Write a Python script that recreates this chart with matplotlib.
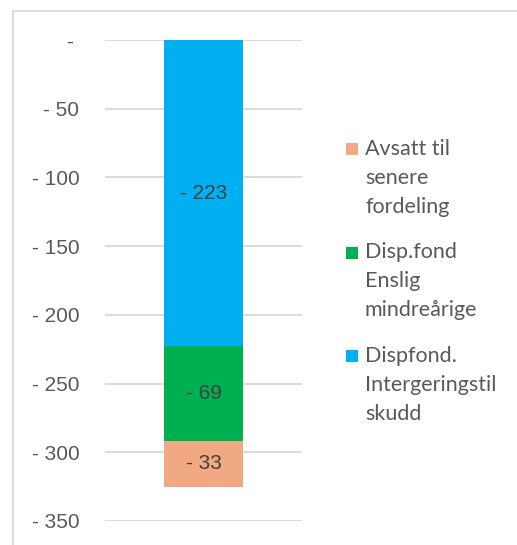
import matplotlib.pyplot as plt
from matplotlib.patches import Rectangle

# data (stacked from 0 downwards)
series = ["Dispfond.\nIntergeringstil\nskudd", "Disp.fond\nEnslig\nmindreårige", "Avsatt til\nsenere\nfordeling"]
values = [-223, -69, -33]
colors = ["#00B0F0", "#00B050", "#F1A983"]
yticks = [0, -50, -100, -150, -200, -250, -300, -350]
ytick_labels = ["- ", "- 50", "- 100", "- 150", "- 200", "- 250", "- 300", "- 350"]

W, H = 517, 545
fig = plt.figure(figsize=(W / 100, H / 100), dpi=100)
ax = fig.add_axes([105 / W, 1 - 521 / H, 197 / W, 481 / H])

bottom = 0
for name, v, c in zip(series, values, colors):
    ax.bar(0, v, width=0.4, bottom=bottom, color=c, zorder=3)
    ax.text(0, bottom + v / 2, f"- {abs(v)}", ha="center", va="center",
            fontsize=15, color="#404040", family="Liberation Sans", zorder=4)
    bottom += v

ax.set_xlim(-0.5, 0.5)
ax.set_ylim(-350, 0)
ax.set_yticks(yticks)
ax.set_yticklabels(ytick_labels, family="Liberation Sans", fontsize=15, color="#595959")
ax.tick_params(axis="y", length=0, pad=18.5)
ax.set_xticks([])
ax.grid(axis="y", color="#D9D9D9", linewidth=1.3, zorder=0)
for s in ax.spines.values():
    s.set_visible(False)

# legend drawn by hand, reversed order, square next to first line
for i, (name, c) in enumerate(zip(series[::-1], colors[::-1])):
    base = 155 + i * 103.5
    fig.patches.append(Rectangle((346 / W, 1 - base / H), 12 / W, 12 / H,
                                 transform=fig.transFigure, facecolor=c, edgecolor="none"))
    for j, line in enumerate(name.split("\n")):
        fig.text(365 / W, 1 - (base + j * 29) / H, line, va="baseline", ha="left",
                 family="Lato", fontsize=15.5, color="#595959")

# chart area border (top and left edges visible)
fig.patches.append(Rectangle((13 / W, -0.1), 1.2, 1 - 11 / H + 0.1, transform=fig.transFigure,
                             fill=False, edgecolor="#D9D9D9", linewidth=1.3))

fig.savefig("out.png", dpi=100)
